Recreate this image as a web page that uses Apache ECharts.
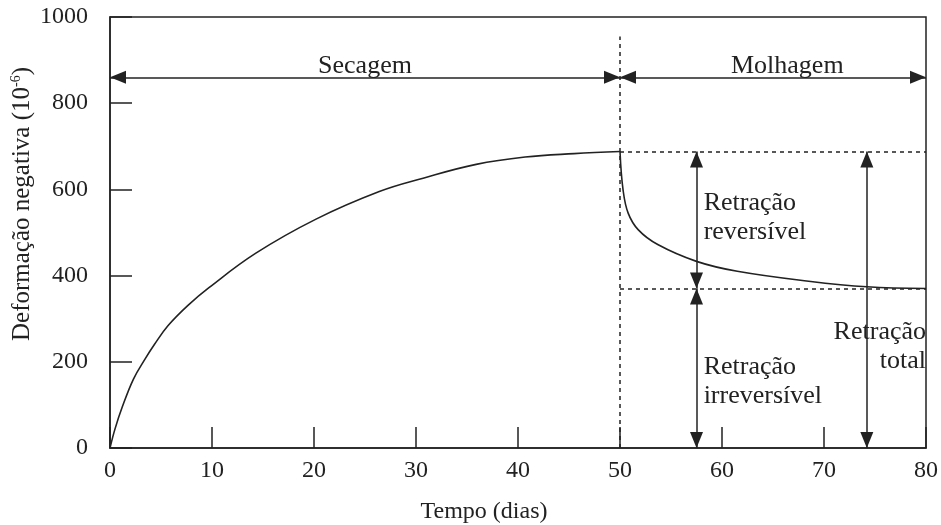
<!DOCTYPE html>
<html>
<head>
<meta charset="utf-8">
<script src="https://cdn.jsdelivr.net/npm/echarts@6/dist/echarts.min.js"></script>
<style>
  html, body { margin: 0; padding: 0; background: #fff; }
  #m1 { width: 941px; height: 525px; }
</style>
</head>
<body>
<div id="m1"></div>
<script>
// dados (tempo em dias, deformação em 10^-6)
var dryDays   = [0, 0.5, 1.2, 2.3, 3.4, 4.35, 5.7, 7.7, 9.7, 14.3, 20.2, 26.4, 30.7, 35.9, 40.7, 45.5, 50];
var dryStrain = [0, 45, 95, 160, 205, 240, 284, 332, 372, 452, 531, 595, 626, 658, 675, 683, 688];
var wetDays   = [50, 50.3, 50.8, 51.8, 53.7, 57.5, 61.5, 68.5, 74.2, 80];
var wetStrain = [688, 599, 545, 506, 472, 433, 410, 387, 374, 370];

var peakStrain = 688;     // fim da secagem
var finalStrain = 370;    // fim da molhagem
var phaseEnd = 50;
var endDay = 80;
var headerLevel = 860;    // cota das setas Secagem / Molhagem
var dividerTop = 955;
var arrowDayA = 57.5;     // setas retração reversível / irreversível
var arrowDayB = 74.2;     // seta retração total

var xTicks = [0, 10, 20, 30, 40, 50, 60, 70, 80];
var yTicks = [0, 200, 400, 600, 800, 1000];

var ink = '#222';
var serif = 'Liberation Serif';
var headSize = [13, 16];
var headShift = [0, 8];

function pairs(xs, ys) {
  return xs.map(function (x, i) { return [x, ys[i]]; });
}

// seta com ponta nas duas extremidades
function arrow(a, b) {
  return [
    { coord: a, symbol: 'triangle', symbolSize: headSize, symbolOffset: headShift },
    { coord: b, symbol: 'triangle', symbolSize: headSize, symbolOffset: headShift }
  ];
}

initChart();

function initChart() {
  var myChart = echarts.init(document.getElementById('m1'));

  var option = {
    animation: false,
    backgroundColor: '#fff',
    grid: {
      left: 110, right: 9, top: 17, bottom: 77,
      show: true, borderColor: ink, borderWidth: 1.5, backgroundColor: 'transparent'
    },
    xAxis: {
      type: 'value',
      min: xTicks[0], max: xTicks[xTicks.length - 1], interval: 10,
      axisLine: { lineStyle: { color: ink, width: 1.5 } },
      axisTick: { inside: true, length: 21, lineStyle: { color: ink, width: 1.5 } },
      axisLabel: { margin: 11, color: ink, fontFamily: serif, fontSize: 24 },
      splitLine: { show: false }
    },
    yAxis: {
      type: 'value',
      min: yTicks[0], max: yTicks[yTicks.length - 1], interval: 200,
      axisLine: { show: true, lineStyle: { color: ink, width: 1.5 } },
      axisTick: { show: true, inside: true, length: 22, lineStyle: { color: ink, width: 1.5 } },
      axisLabel: {
        margin: 22, color: ink, fontFamily: serif, fontSize: 24,
        formatter: function (v) { return String(v); }
      },
      splitLine: { show: false }
    },
    graphic: [
      {
        type: 'text', x: 22, y: 204, rotation: Math.PI / 2,
        style: {
          text: 'Deformação negativa (10{sup|-6})',
          fill: ink, font: '25px "Liberation Serif"',
          textAlign: 'center', textVerticalAlign: 'middle',
          rich: { sup: { fontSize: 14, fontFamily: serif, fill: ink, verticalAlign: 'top' } }
        }
      },
      {
        type: 'text', x: 484, y: 512,
        style: {
          text: 'Tempo (dias)', fill: ink, font: '24px "Liberation Serif"',
          textAlign: 'center', textVerticalAlign: 'middle'
        }
      }
    ],
    series: [
      {
        name: 'Secagem',
        type: 'line',
        data: pairs(dryDays, dryStrain),
        smooth: 0.4,
        symbol: 'none',
        lineStyle: { color: ink, width: 1.6 },
        markLine: {
          silent: true,
          symbol: ['triangle', 'triangle'],
          symbolSize: headSize,
          label: { show: false },
          lineStyle: { color: ink, width: 1.5, type: 'solid' },
          itemStyle: { color: ink },
          data: [
            arrow([0, headerLevel], [phaseEnd, headerLevel]),
            arrow([phaseEnd, headerLevel], [endDay, headerLevel]),
            arrow([arrowDayA, peakStrain], [arrowDayA, finalStrain]),
            arrow([arrowDayA, finalStrain], [arrowDayA, 0]),
            arrow([arrowDayB, peakStrain], [arrowDayB, 0])
          ]
        },
        markPoint: {
          silent: true,
          symbol: 'circle', symbolSize: 0,
          label: {
            show: true, color: ink, fontFamily: serif, fontSize: 26, lineHeight: 29,
            formatter: function (p) { return p.name; }
          },
          data: [
            { name: 'Secagem', coord: [25, 887], label: { position: 'inside' } },
            { name: 'Molhagem', coord: [66.4, 885], label: { position: 'inside' } },
            { name: 'Retração\nreversível', coord: [58.2, 535], label: { position: 'right', distance: 0, align: 'left' } },
            { name: 'Retração\nirreversível', coord: [58.2, 154], label: { position: 'right', distance: 0, align: 'left' } },
            { name: 'Retração\ntotal', coord: [endDay, 236], label: { position: 'left', distance: 0, align: 'right' } }
          ]
        }
      },
      {
        name: 'Molhagem',
        type: 'line',
        data: pairs(wetDays, wetStrain),
        smooth: 0.4,
        symbol: 'none',
        lineStyle: { color: ink, width: 1.6 },
        markLine: {
          silent: true,
          symbol: ['none', 'none'],
          label: { show: false },
          lineStyle: { color: ink, width: 1.5, type: [4, 4] },
          data: [
            [{ coord: [phaseEnd, 0] }, { coord: [phaseEnd, dividerTop] }],
            [{ coord: [phaseEnd, peakStrain] }, { coord: [endDay, peakStrain] }],
            [{ coord: [phaseEnd, finalStrain] }, { coord: [endDay, finalStrain] }]
          ]
        }
      }
    ]
  };

  myChart.setOption(option);
  window.addEventListener('resize', function () { myChart.resize(); });
}
</script>
</body>
</html>
